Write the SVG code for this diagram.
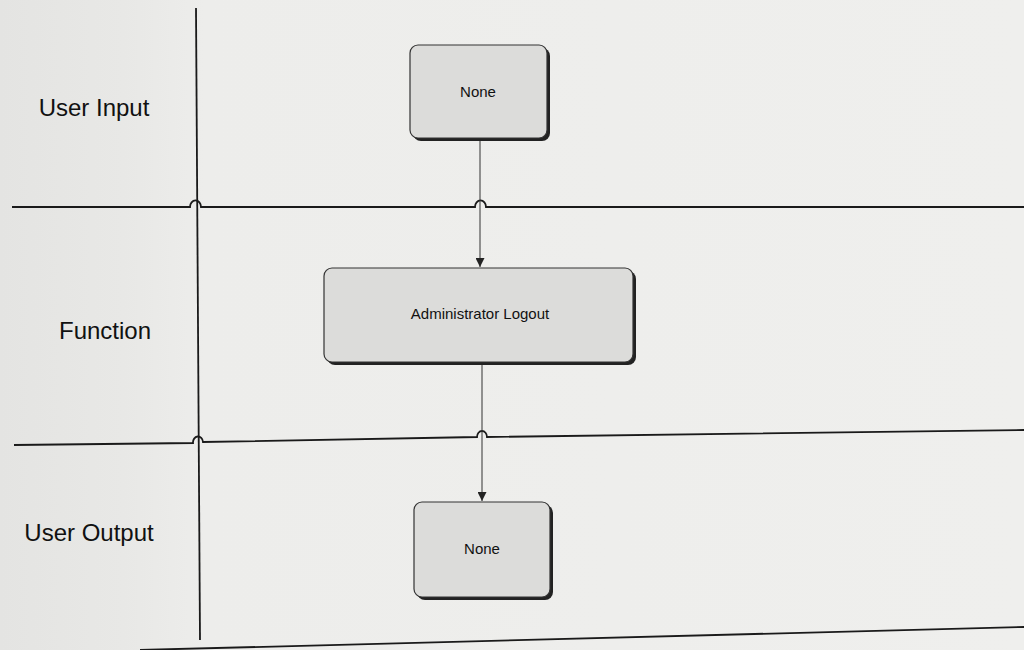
<svg xmlns="http://www.w3.org/2000/svg" width="1024" height="650" viewBox="0 0 1024 650">
<style>
.lane{fill:#111;font-family:"Liberation Sans",Arial,sans-serif;font-size:24px;text-anchor:middle;dominant-baseline:central}
.box{fill:#dcdcda;stroke:#333;stroke-width:1.2}
.sh{fill:#222}
.t{fill:#111;font-family:"Liberation Sans",Arial,sans-serif;font-size:15px;text-anchor:middle;dominant-baseline:central}
.ln{fill:none;stroke:#1a1a1a;stroke-width:1.8}
.cn{fill:none;stroke:#333;stroke-width:1}
</style>
<defs>
<marker id="ah" viewBox="0 0 10 10" refX="10" refY="5" markerWidth="9" markerHeight="9" markerUnits="userSpaceOnUse" orient="auto">
<path d="M0,0 L10,5 L0,10 Z" fill="#222"/>
</marker>
<linearGradient id="bg" x1="0" y1="0" x2="1" y2="0">
<stop offset="0" stop-color="#e4e4e2"/>
<stop offset="0.12" stop-color="#e8e8e6"/>
<stop offset="0.2" stop-color="#ededeb"/>
<stop offset="1" stop-color="#efefed"/>
</linearGradient>
</defs>
<rect width="1024" height="650" fill="url(#bg)"/>
<g id="lanes">
<path class="ln" d="M196,8 L200,640"/>
<path class="ln" d="M12,207 L190,207 A5,6 0 0 1 201,207 L475,207 A5,6 0 0 1 486,207 L1024,207"/>
<path class="ln" d="M14,445 L193,443 A5,6 0 0 1 203,442 L477,437 A5,6 0 0 1 487,437 L1024,430"/>
<path class="ln" d="M140,650 L1024,627"/>
</g>
<g id="labels">
<text class="lane" x="94" y="107">User Input</text>
<text class="lane" x="105" y="330">Function</text>
<text class="lane" x="89" y="532">User Output</text>
</g>
<g id="connectors">
<path class="cn" d="M480,140 L480,267" marker-end="url(#ah)"/>
<path class="cn" d="M482,363 L482,501" marker-end="url(#ah)"/>
</g>
<g id="node-input">
<rect class="sh" x="413" y="48" width="137" height="93" rx="8"/>
<rect class="box" x="410" y="45" width="137" height="93" rx="8"/>
<text class="t" x="478" y="91">None</text>
</g>
<g id="node-function">
<rect class="sh" x="327" y="271" width="309" height="94" rx="8"/>
<rect class="box" x="324" y="268" width="309" height="94" rx="8"/>
<text class="t" x="480" y="313">Administrator Logout</text>
</g>
<g id="node-output">
<rect class="sh" x="417" y="505" width="136" height="95" rx="8"/>
<rect class="box" x="414" y="502" width="136" height="95" rx="8"/>
<text class="t" x="482" y="548">None</text>
</g>
</svg>
